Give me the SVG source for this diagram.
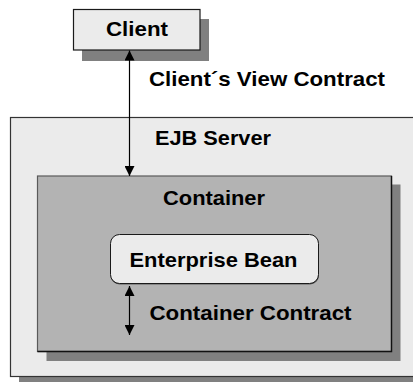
<svg xmlns="http://www.w3.org/2000/svg" width="413" height="382" viewBox="0 0 413 382">
  <style>
    .shadow { fill: #808080; }
    .light { fill: #ebebeb; stroke: #1a1a1a; stroke-width: 1.2; }
    .mid { fill: #b3b3b3; stroke: #5a5a5a; stroke-width: 1.2; }
    .edge { stroke: #111; stroke-width: 1.4; fill: none; }
    .lbl { font-family: "Liberation Sans", Arial, Helvetica, sans-serif; font-weight: bold; font-size: 21px; fill: #000; }
    .conn { stroke: #000; stroke-width: 1.2; fill: none; }
  </style>
  <defs>
    <marker id="arrow" viewBox="0 0 10 10" refX="10" refY="5" markerWidth="10" markerHeight="10" markerUnits="userSpaceOnUse" orient="auto-start-reverse">
      <path d="M0,0 L10,5 L0,10 Z" fill="#000"/>
    </marker>
  </defs>
  <rect width="413" height="382" fill="#fff"/>

  <!-- EJB server (outer box) -->
  <g id="ejb-server">
    <rect class="shadow" x="19" y="126" width="400" height="260"/>
    <rect class="light" x="10.5" y="117.5" width="410" height="259" style="stroke:#333"/>
    <text class="lbl" x="213" y="145" text-anchor="middle" textLength="116" lengthAdjust="spacingAndGlyphs">EJB Server</text>
  </g>

  <!-- Container -->
  <g id="container">
    <rect class="shadow" x="46.5" y="184.5" width="354" height="176.5"/>
    <rect class="mid" x="37.5" y="176" width="354" height="175.5"/>
    <path class="edge" d="M391.5,176 V351.5 H37.5"/>
    <text class="lbl" x="214" y="205" text-anchor="middle" textLength="102" lengthAdjust="spacingAndGlyphs">Container</text>
  </g>

  <!-- Enterprise bean -->
  <g id="enterprise-bean">
    <rect x="110.5" y="235.5" width="208.5" height="49" rx="9" fill="#5a5a5a"/>
    <rect x="110.5" y="234.5" width="208" height="49" rx="9" fill="#ebebeb" stroke="#1a1a1a" stroke-width="1"/>
    <text class="lbl" x="213.5" y="267" text-anchor="middle" textLength="168" lengthAdjust="spacingAndGlyphs">Enterprise Bean</text>
  </g>

  <!-- Client -->
  <g id="client">
    <rect class="shadow" x="82" y="19" width="127" height="42"/>
    <rect class="light" x="73.5" y="9.5" width="126.5" height="40.5"/>
    <text class="lbl" x="137" y="36" text-anchor="middle" textLength="62" lengthAdjust="spacingAndGlyphs">Client</text>
  </g>

  <!-- Connectors -->
  <g id="connectors">
    <line class="conn" x1="129.5" y1="50.5" x2="129.5" y2="176" marker-start="url(#arrow)" marker-end="url(#arrow)"/>
    <line class="conn" x1="129.5" y1="286" x2="129.5" y2="335" marker-start="url(#arrow)" marker-end="url(#arrow)"/>
  </g>

  <!-- Contract labels -->
  <g id="labels">
    <text class="lbl" x="149" y="86" textLength="236" lengthAdjust="spacingAndGlyphs">Client´s View Contract</text>
    <text class="lbl" x="149.5" y="319.5" textLength="202" lengthAdjust="spacingAndGlyphs">Container Contract</text>
  </g>
</svg>
